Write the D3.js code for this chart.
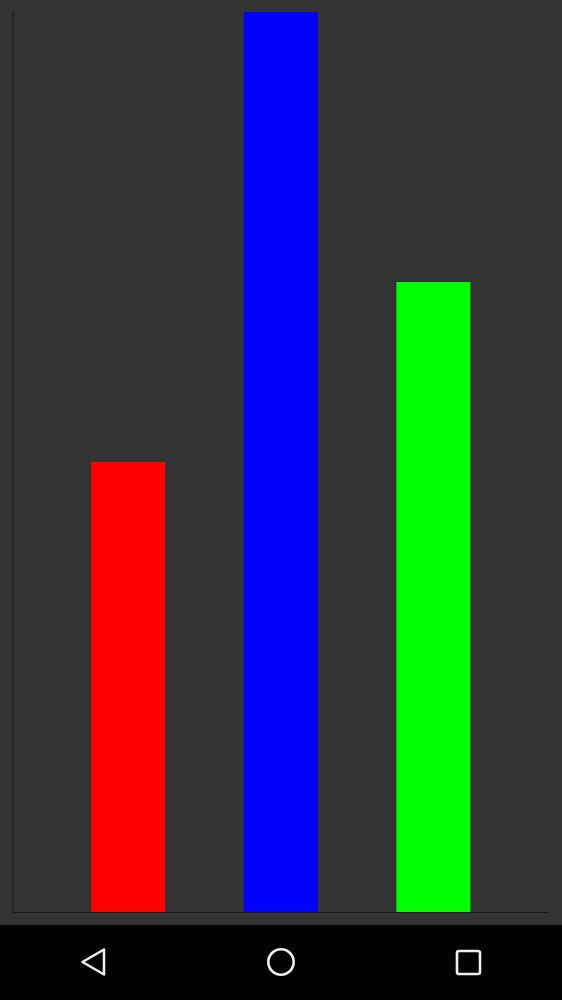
<!DOCTYPE html>
<html>
<head>
<meta charset="utf-8">
<script src="https://cdn.jsdelivr.net/npm/d3@7"></script>
<style>
  html, body { margin: 0; padding: 0; background: #333333; }
  svg { display: block; }
</style>
</head>
<body>
<svg id="chart" width="562" height="1000"></svg>
<script>
const categories = ["A", "B", "C"];
const values = [50, 100, 70];
const colors = ["#ff0000", "#0000ff", "#00ff00"];

const W = 562, H = 1000;
const margin = { left: 12.5, right: 13, top: 12, bottom: 88 };
const svg = d3.select("#chart");

svg.append("rect").attr("width", W).attr("height", H).attr("fill", "#333333");

const x = d3.scaleBand()
  .domain(categories)
  .range([margin.left, W - margin.right])
  .paddingInner(0.515)
  .paddingOuter(0.515);

const y = d3.scaleLinear()
  .domain([0, 100])
  .range([H - margin.bottom, margin.top]);

svg.selectAll("rect.bar")
  .data(categories)
  .join("rect")
  .attr("class", "bar")
  .attr("x", d => x(d))
  .attr("width", x.bandwidth())
  .attr("y", (d, i) => y(values[i]))
  .attr("height", (d, i) => y(0) - y(values[i]))
  .attr("fill", (d, i) => colors[i]);

// axis lines
const xAxis = d3.axisBottom(x).tickSize(0).tickFormat("");
svg.append("g")
  .attr("transform", `translate(0,${y(0)})`)
  .call(xAxis)
  .call(g => g.select(".domain").attr("stroke", "#1a1a1a"));

const yAxis = d3.axisLeft(y).tickSize(0).tickFormat("").ticks(0);
svg.append("g")
  .attr("transform", `translate(${margin.left},0)`)
  .call(yAxis)
  .call(g => g.select(".domain").attr("stroke", "#1a1a1a"));

// Navigation bar
const nav = svg.append("g");
nav.append("rect").attr("x", 0).attr("y", 925).attr("width", W).attr("height", 75).attr("fill", "#000");
const ic = "#eeeeee";
nav.append("path")
  .attr("d", "M104,949.5 L82.5,962 L104,974.5 Z")
  .attr("fill", "none").attr("stroke", ic).attr("stroke-width", 2.6).attr("stroke-linejoin", "round");
nav.append("circle")
  .attr("cx", 281).attr("cy", 962).attr("r", 12.7)
  .attr("fill", "none").attr("stroke", ic).attr("stroke-width", 2.6);
nav.append("rect")
  .attr("x", 457).attr("y", 951).attr("width", 23).attr("height", 23).attr("rx", 2)
  .attr("fill", "none").attr("stroke", ic).attr("stroke-width", 2.6);
</script>
</body>
</html>
